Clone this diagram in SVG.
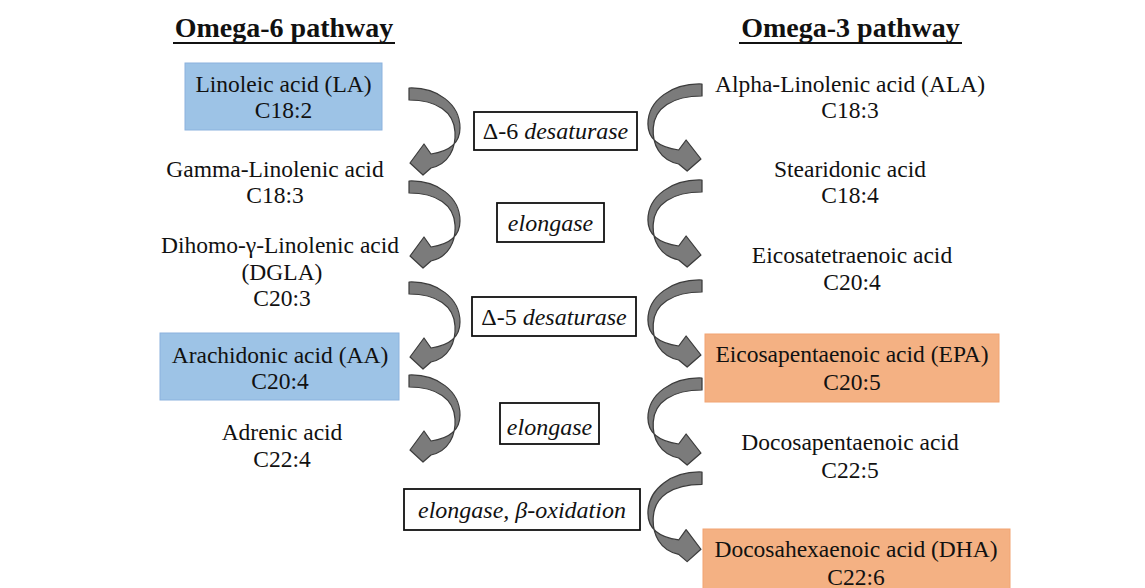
<svg xmlns="http://www.w3.org/2000/svg" width="1145" height="588" viewBox="0 0 1145 588">
<style>
.t{font-family:"Liberation Serif","Times New Roman",serif;font-size:23.5px;fill:#111;text-anchor:middle}
.h{font-family:"Liberation Serif","Times New Roman",serif;font-size:28px;font-weight:bold;fill:#111;text-anchor:middle}
.e{font-family:"Liberation Serif","Times New Roman",serif;font-size:24px;fill:#111;text-anchor:middle}
.i{font-style:italic}
.blue{fill:#9dc3e6;stroke:#8bb2de;stroke-width:1}
.orange{fill:#f4b183;stroke:#f2a473;stroke-width:1}
.enz{fill:#fff;stroke:#111;stroke-width:1.8}
.arr{fill:#7b7b7b;stroke:#3c3c3c;stroke-width:1.2;stroke-linejoin:round}
</style>
<defs>
<path id="arrow" d="M0,0 C28,-1 51,16 51,40 C51,54 42,63 22,66 L15,56 L1,75 L14,87 L22,80 C40,76 47,60 46,44 C45,24 28,12 0,12 Z"/>
</defs>
<rect x="0" y="0" width="1145" height="588" fill="#fff"/>
<g id="titles">
<text class="h" x="284" y="37">Omega-6 pathway</text>
<line x1="173" y1="43" x2="395" y2="43" stroke="#111" stroke-width="2"/>
<text class="h" x="850.5" y="37">Omega-3 pathway</text>
<line x1="739" y1="43" x2="962" y2="43" stroke="#111" stroke-width="2"/>
</g>
<g id="connectors">
<use href="#arrow" class="arr" transform="translate(409,88)"/>
<use href="#arrow" class="arr" transform="translate(409,181)"/>
<use href="#arrow" class="arr" transform="translate(409,282)"/>
<use href="#arrow" class="arr" transform="translate(409,375)"/>
<use href="#arrow" class="arr" transform="translate(702,84) scale(-1.06,1)"/>
<use href="#arrow" class="arr" transform="translate(702,180) scale(-1.06,1)"/>
<use href="#arrow" class="arr" transform="translate(702,280) scale(-1.06,1)"/>
<use href="#arrow" class="arr" transform="translate(702,378) scale(-1.06,1)"/>
<use href="#arrow" class="arr" transform="translate(702,472) scale(-1.06,1.03)"/>
</g>
<g id="la"><rect class="blue" x="185" y="63" width="197" height="67"/>
<text class="t" x="283.5" y="92">Linoleic acid (LA)</text><text class="t" x="283.5" y="118">C18:2</text></g>
<g id="gla"><text class="t" x="275" y="177">Gamma-Linolenic acid</text><text class="t" x="275" y="203">C18:3</text></g>
<g id="dgla"><text class="t" x="280" y="253">Dihomo-γ-Linolenic acid</text><text class="t" x="282" y="280">(DGLA)</text><text class="t" x="282" y="306">C20:3</text></g>
<g id="aa"><rect class="blue" x="160" y="333" width="239" height="67"/>
<text class="t" x="280" y="363">Arachidonic acid (AA)</text><text class="t" x="280" y="389">C20:4</text></g>
<g id="adrenic"><text class="t" x="282" y="440">Adrenic acid</text><text class="t" x="282" y="467">C22:4</text></g>
<g id="ala"><text class="t" x="850" y="92">Alpha-Linolenic acid (ALA)</text><text class="t" x="850" y="118">C18:3</text></g>
<g id="sda"><text class="t" x="850" y="177">Stearidonic acid</text><text class="t" x="850" y="203">C18:4</text></g>
<g id="eta"><text class="t" x="852" y="263">Eicosatetraenoic acid</text><text class="t" x="852" y="290">C20:4</text></g>
<g id="epa"><rect class="orange" x="705" y="334" width="294" height="68"/>
<text class="t" x="852" y="362">Eicosapentaenoic acid (EPA)</text><text class="t" x="852" y="390">C20:5</text></g>
<g id="dpa"><text class="t" x="850" y="450">Docosapentaenoic acid</text><text class="t" x="850" y="478">C22:5</text></g>
<g id="dha"><rect class="orange" x="703" y="529" width="307" height="64"/>
<text class="t" x="856" y="557">Docosahexaenoic acid (DHA)</text><text class="t" x="856" y="585">C22:6</text></g>
<g id="enz1"><rect class="enz" x="474" y="112" width="163" height="38"/>
<text class="e" x="555.5" y="139">Δ-6 <tspan class="i">desaturase</tspan></text></g>
<g id="enz2"><rect class="enz" x="497" y="203" width="107" height="39"/>
<text class="e i" x="550.5" y="231">elongase</text></g>
<g id="enz3"><rect class="enz" x="472" y="297" width="164" height="39"/>
<text class="e" x="554" y="325">Δ-5 <tspan class="i">desaturase</tspan></text></g>
<g id="enz4"><rect class="enz" x="500" y="403" width="99" height="41"/>
<text class="e i" x="549.5" y="435">elongase</text></g>
<g id="enz5"><rect class="enz" x="404" y="489" width="236" height="41"/>
<text class="e i" x="522" y="518">elongase, β-oxidation</text></g>
</svg>
